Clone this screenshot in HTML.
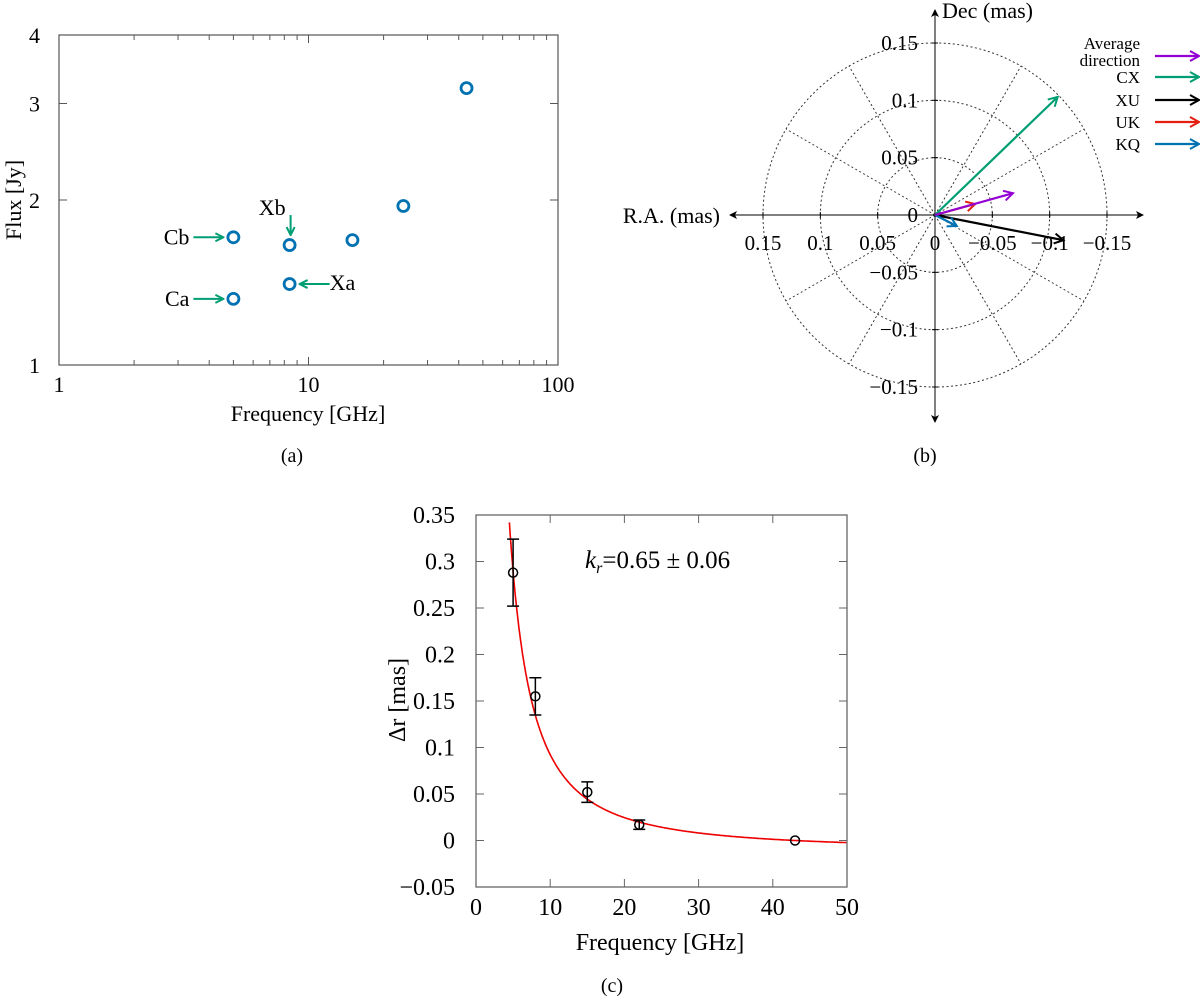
<!DOCTYPE html>
<html><head><meta charset="utf-8"><style>
body{margin:0;background:#fff}
svg{display:block;font-family:"Liberation Serif",serif}
</style></head><body>
<svg id="s" width="1200" height="1001" viewBox="0 0 1200 1001">
<defs>
<marker id="ab" markerWidth="8" markerHeight="8" refX="7" refY="4" orient="auto" markerUnits="userSpaceOnUse"><path d="M0,0 L8,4 L0,8 L2,4z" fill="#000"/></marker>
<marker id="ag" markerWidth="10" markerHeight="10" refX="9" refY="5" orient="auto" markerUnits="userSpaceOnUse"><path d="M1,1 L9,5 L1,9" fill="none" stroke="#009e73" stroke-width="2"/></marker>
<marker id="mk0" markerWidth="12" markerHeight="12" refX="10" refY="6" orient="auto" markerUnits="userSpaceOnUse"><path d="M1,1 L10,6 L1,11" fill="none" stroke="#9400d3" stroke-width="2"/></marker>
<marker id="mk1" markerWidth="12" markerHeight="12" refX="10" refY="6" orient="auto" markerUnits="userSpaceOnUse"><path d="M1,1 L10,6 L1,11" fill="none" stroke="#009e73" stroke-width="2"/></marker>
<marker id="mk2" markerWidth="12" markerHeight="12" refX="10" refY="6" orient="auto" markerUnits="userSpaceOnUse"><path d="M1,1 L10,6 L1,11" fill="none" stroke="#000" stroke-width="2"/></marker>
<marker id="mk3" markerWidth="12" markerHeight="12" refX="10" refY="6" orient="auto" markerUnits="userSpaceOnUse"><path d="M1,1 L10,6 L1,11" fill="none" stroke="#e51e10" stroke-width="2"/></marker>
<marker id="mk4" markerWidth="12" markerHeight="12" refX="10" refY="6" orient="auto" markerUnits="userSpaceOnUse"><path d="M1,1 L10,6 L1,11" fill="none" stroke="#0072b2" stroke-width="2"/></marker>
</defs>
<g id="ga"></g>
<g id="gb"></g>
<g id="gc"></g>
</svg>
<script>
// Panel (a) data
const aFreq=[5,5,8.4,8.4,15,24,43];
const aFlux=[1.71,1.32,1.655,1.405,1.69,1.95,3.2];
const aXTicks=[1,10,100];
const aYTicks=[1,2,3,4];
// Panel (b) data
const bNames=["Average direction","CX","XU","UK","KQ"];
const bRA=[-0.068,-0.107,-0.112,-0.035,-0.019];
const bDec=[0.019,0.103,-0.022,0.0096,-0.0096];
const bColors=["#9400d3","#009e73","#000","#e51e10","#0072b2"];
const bTicks=[0.15,0.1,0.05,0,-0.05,-0.1,-0.15];
const bRings=[0.05,0.1,0.15];
// Panel (c) data
const cFreq=[5,8,15,22,43];
const cDr=[0.288,0.155,0.052,0.017,0];
const cErr=[0.036,0.02,0.011,0.005,0];
const cXTicks=[0,10,20,30,40,50];
const cYTicks=[-0.05,0,0.05,0.1,0.15,0.2,0.25,0.3,0.35];
const cFitK=[0.65];
const cFitA=[3.57];
const cFitRef=[43];

const NS="http://www.w3.org/2000/svg";
function el(p,t,a,txt){const e=document.createElementNS(NS,t);for(const k in a)e.setAttribute(k,a[k]);if(txt!==undefined)e.textContent=txt;p.appendChild(e);return e;}
function fmt(v){return (v<0?"\u2212":"")+String(Math.abs(v));}

// ---- Panel A ----
(function(){
const g=document.getElementById('ga');
const L=59,R=558,T=35,B=365;
const X=f=>L+(R-L)*Math.log10(f)/2;
const Y=v=>B-(B-T)*Math.log(v)/Math.log(4);
let f=el(g,'rect',{x:L,y:T,width:R-L,height:B-T,fill:'none',stroke:'#555','stroke-width':1.2});

for(let d=1;d<=100;d*=10)for(let m=1;m<10;m++){const v=d*m;if(v>100)break;const x=X(v),len=(m==1)?8:5;
 el(g,'line',{x1:x,x2:x,y1:B,y2:B-len,stroke:'#555'});el(g,'line',{x1:x,x2:x,y1:T,y2:T+len,stroke:'#555'});}
aXTicks.forEach(v=>{const t=el(g,'text',{x:X(v),y:392,'text-anchor':'middle','font-size':22},String(v));});
aYTicks.forEach(v=>{const y=Y(v);el(g,'line',{x1:L,x2:L+8,y1:y,y2:y,stroke:'#555'});el(g,'line',{x1:R,x2:R-8,y1:y,y2:y,stroke:'#555'});
 const t=el(g,'text',{x:40,y:y+8,'text-anchor':'end','font-size':22},String(v));});
let t=el(g,'text',{x:308,y:421,'text-anchor':'middle','font-size':22},'Frequency [GHz]');
t=el(g,'text',{x:0,y:0,'text-anchor':'middle','font-size':22,transform:'translate(21,200) rotate(-90)'},'Flux [Jy]');
t=el(g,'text',{x:292,y:462,'text-anchor':'middle','font-size':20},'(a)');
aFreq.forEach((v,i)=>{const c=el(g,'circle',{cx:X(v),cy:Y(aFlux[i]),r:5.5,fill:'none',stroke:'#0072b2','stroke-width':2.8});});
const ann=[['Cb',0,'l'],['Ca',1,'l'],['Xb',2,'t'],['Xa',3,'r']];
ann.forEach(a=>{const x=X(aFreq[a[1]]),y=Y(aFlux[a[1]]);let lab;
 if(a[2]=='l'){el(g,'line',{x1:x-40,y1:y,x2:x-10,y2:y,stroke:'#009e73','stroke-width':2,'marker-end':'url(#ag)'});lab=el(g,'text',{x:x-44,y:y+7,'text-anchor':'end','font-size':22},a[0]);}
 else if(a[2]=='r'){el(g,'line',{x1:x+40,y1:y,x2:x+10,y2:y,stroke:'#009e73','stroke-width':2,'marker-end':'url(#ag)'});lab=el(g,'text',{x:x+40,y:y+6,'font-size':22},a[0]);}
 else{el(g,'line',{x1:x+1,y1:y-30,x2:x+1,y2:y-10,stroke:'#009e73','stroke-width':2,'marker-end':'url(#ag)'});lab=el(g,'text',{x:x-4,y:y-30,'text-anchor':'end','font-size':22},a[0]);}
 });
})();

// ---- Panel B ----
(function(){
const g=document.getElementById('gb');
const cx=935,cy=215,s=172/0.15;
const X=v=>cx-v*s, Y=v=>cy-v*s;
bRings.forEach(r=>{const c=el(g,'circle',{cx:cx,cy:cy,r:r*s,fill:'none',stroke:'#333','stroke-dasharray':'2,2.5','stroke-width':1});});
for(let a=0;a<360;a+=30){if(a%90==0)continue;const rad=a*Math.PI/180;el(g,'line',{x1:cx,y1:cy,x2:cx+0.15*s*Math.cos(rad),y2:cy-0.15*s*Math.sin(rad),stroke:'#333','stroke-dasharray':'2,2.5'});}
el(g,'line',{x1:cx,y1:cy,x2:1143,y2:cy,stroke:'#000','marker-end':'url(#ab)'});
el(g,'line',{x1:cx,y1:cy,x2:730,y2:cy,stroke:'#000','marker-end':'url(#ab)'});
el(g,'line',{x1:cx,y1:cy,x2:cx,y2:10,stroke:'#000','marker-end':'url(#ab)'});
el(g,'line',{x1:cx,y1:cy,x2:cx,y2:422,stroke:'#000','marker-end':'url(#ab)'});
bTicks.forEach(v=>{el(g,'line',{x1:X(v),x2:X(v),y1:cy-3,y2:cy+3,stroke:'#000'});
 let t=el(g,'text',{x:X(v),y:cy+35,'text-anchor':'middle','font-size':21},fmt(v));
 if(v!==0){el(g,'line',{x1:cx-3,x2:cx+3,y1:Y(v),y2:Y(v),stroke:'#000'});
 t=el(g,'text',{x:cx-17,y:Y(v)+7,'text-anchor':'end','font-size':21},fmt(v));}
 else{t=el(g,'text',{x:cx-17,y:cy+7,'text-anchor':'end','font-size':21},'0');}});
let t=el(g,'text',{x:720,y:223,'text-anchor':'end','font-size':22},'R.A. (mas)');
t=el(g,'text',{x:942,y:18,'font-size':22},'Dec (mas)');
t=el(g,'text',{x:925,y:462,'text-anchor':'middle','font-size':20},'(b)');
const order=[1,2,3,4,0];
order.forEach(i=>{const a=el(g,'line',{x1:cx,y1:cy,x2:X(bRA[i]),y2:Y(bDec[i]),stroke:bColors[i],'stroke-width':2.2,'marker-end':'url(#mk'+i+')'});});
const ly=[56,77,100,122,144];
bNames.forEach((n,i)=>{const y=ly[i];
 el(g,'line',{x1:1155,y1:y,x2:1199,y2:y,stroke:bColors[i],'stroke-width':2.2,'marker-end':'url(#mk'+i+')'});
 let lt;
 if(i==0){lt=el(g,'text',{x:1140,y:y-7,'text-anchor':'end','font-size':17},'Average');el(g,'text',{x:1140,y:y+10,'text-anchor':'end','font-size':17},'direction');}
 else lt=el(g,'text',{x:1140,y:y+6,'text-anchor':'end','font-size':17},n);
 });
})();

// ---- Panel C ----
(function(){
const g=document.getElementById('gc');
const L=476,R=847,T=515,B=887;
const X=v=>L+(R-L)*v/50;
const Y=v=>B-(B-T)*(v+0.05)/0.4;
let f=el(g,'rect',{x:L,y:T,width:R-L,height:B-T,fill:'none',stroke:'#666','stroke-width':1.3});

cXTicks.forEach(v=>{const x=X(v);el(g,'line',{x1:x,x2:x,y1:B,y2:B-8,stroke:'#666'});el(g,'line',{x1:x,x2:x,y1:T,y2:T+8,stroke:'#666'});
 const t=el(g,'text',{x:x,y:915,'text-anchor':'middle','font-size':24},String(v));});
cYTicks.forEach(v=>{const y=Y(v);el(g,'line',{x1:L,x2:L+8,y1:y,y2:y,stroke:'#666'});el(g,'line',{x1:R,x2:R-8,y1:y,y2:y,stroke:'#666'});
 const t=el(g,'text',{x:455,y:y+8,'text-anchor':'end','font-size':24},fmt(Math.round(v*100)/100));});
let t=el(g,'text',{x:660,y:950,'text-anchor':'middle','font-size':24},'Frequency [GHz]');
t=el(g,'text',{x:0,y:0,'text-anchor':'middle','font-size':24,transform:'translate(405,700) rotate(-90)'},'\u0394r [mas]');
t=el(g,'text',{x:612,y:992,'text-anchor':'middle','font-size':20},'(c)');
t=el(g,'text',{x:585,y:568,'font-size':25},'');t.innerHTML='<tspan font-style="italic">k</tspan><tspan font-style="italic" font-size="16" dy="5">r</tspan><tspan dy="-5">=0.65 \u00b1 0.06</tspan>';

const k=cFitK[0],A=cFitA[0],ref=cFitRef[0];
const fit=x=>A*(Math.pow(x,-1/k)-Math.pow(ref,-1/k));
let d='';for(let x=4.5;x<=50;x+=0.1){const v=fit(x);if(v>0.35)continue;d+=(d?'L':'M')+X(x).toFixed(1)+','+Y(v).toFixed(1);}
const p=el(g,'path',{d:d,fill:'none',stroke:'#e00','stroke-width':1.6});
cFreq.forEach((v,i)=>{const x=X(v),y=Y(cDr[i]);
 if(cErr[i]>0){const y1=Y(cDr[i]+cErr[i]),y2=Y(cDr[i]-cErr[i]);
  const e=el(g,'path',{d:`M${x},${y1}V${y2}M${x-6},${y1}H${x+6}M${x-6},${y2}H${x+6}`,stroke:'#000','stroke-width':1.5,fill:'none'});}
 const c=el(g,'circle',{cx:x,cy:y,r:4.5,fill:'none',stroke:'#000','stroke-width':1.5});});
})();
</script>
</body></html>
